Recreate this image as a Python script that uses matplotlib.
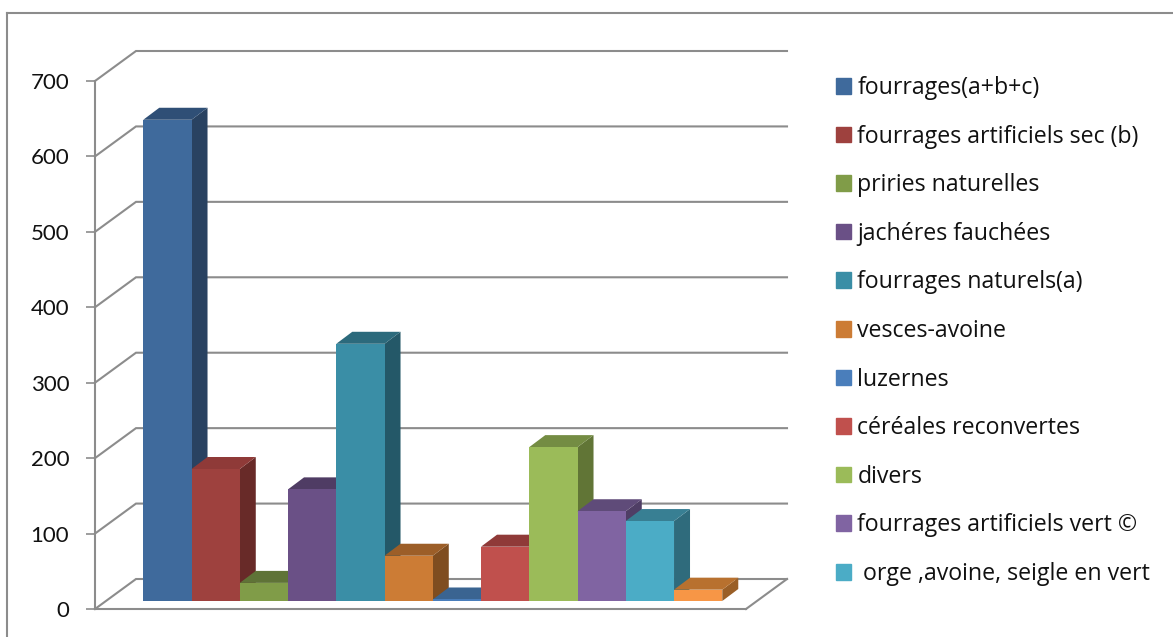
import matplotlib
matplotlib.use('Agg')
import matplotlib.pyplot as plt
from matplotlib.patches import Patch, Polygon
from matplotlib.transforms import ScaledTranslation

plt.rcParams['font.family'] = ['Lato', 'DejaVu Sans']

labels = ['fourrages(a+b+c)', 'fourrages artificiels sec (b)', 'priries naturelles',
          'jachéres fauchées', 'fourrages naturels(a)', 'vesces-avoine', 'luzernes',
          'céréales reconvertes', 'divers', 'fourrages artificiels vert ©',
          ' orge ,avoine, seigle en vert', '']
values = [638, 175, 24, 148, 341, 60, 2, 72, 204, 119, 106, 15]
front = ['#3f6a9c', '#9e413e', '#809c48', '#6a5086', '#3a8ea6', '#cc7c35',
         '#4a7ebb', '#c0504d', '#9bbb59', '#8064a2', '#4bacc6', '#f79646']
top = ['#2f4f76', '#8f3a38', '#5f7337', '#4f3c64', '#2c6a7c', '#9c5e28',
       '#3a6491', '#8f3a38', '#748c43', '#5f4b79', '#387f93', '#b8712f']
side = ['#294261', '#682a28', '#4f602e', '#423253', '#245868', '#7f4d20',
        '#2f5278', '#772f2d', '#617536', '#4f3e65', '#2f6b7c', '#9a5f27']
yticks = [0, 100, 200, 300, 400, 500, 600, 700]

W, H = 1173, 637
fig = plt.figure(figsize=(W / 100, H / 100), dpi=100)
ax = fig.add_axes([95 / W, 1 - 609 / H, (746 - 95) / W, (609 - 81) / H])

# pixel sizes of the fake 3D
px_x = 48.25
px_y = 528 / 700
ax.set_xlim((95 - 167.4) / px_x, (746 - 167.4) / px_x)
ax.set_ylim(0, 700)

gray = '#8c8c8c'
wall_x = 41 / px_x
wall_y = 30 / px_y
x0, x1 = ax.get_xlim()

# left wall and back wall
for v in yticks:
    ax.plot([x0, x0 + wall_x, x1 + wall_x], [v, v + wall_y, v + wall_y], color=gray,
            lw=1.5, clip_on=False, zorder=1, solid_joinstyle='miter')
ax.plot([x1, x1 + wall_x], [0, wall_y], color=gray, lw=1.5, clip_on=False, zorder=1)

# bars sit a bit behind the front of the floor
bar_trans = ax.transData + ScaledTranslation(0, 8 / 100, fig.dpi_scale_trans)
dx = 16 / px_x
dy = 12 / px_y
for i, v in enumerate(values):
    l, r = i - 0.5, i + 0.5
    ax.add_patch(Polygon([(r, 0), (r + dx, dy), (r + dx, v + dy), (r, v)], color=side[i],
                         lw=0, transform=bar_trans, clip_on=False, zorder=2 + i))
    ax.add_patch(Polygon([(l, v), (l + dx, v + dy), (r + dx, v + dy), (r, v)], color=top[i],
                         lw=0, transform=bar_trans, clip_on=False, zorder=2 + i))
    ax.bar(i, v, width=1, color=front[i], transform=bar_trans, clip_on=False, zorder=2 + i)

ax.set_xlim(x0, x1)
ax.set_ylim(0, 700)
for s in ['top', 'right']:
    ax.spines[s].set_visible(False)
for s in ['left', 'bottom']:
    ax.spines[s].set_color(gray)
    ax.spines[s].set_linewidth(1.5)
ax.set_xticks([])
ax.set_yticks(yticks)
ax.tick_params(axis='y', length=6.5, width=1.2, color=gray, labelsize=16, labelcolor='#111111', pad=12)
ax.patch.set_visible(False)

handles = [Patch(color=front[i], label=labels[i]) for i in range(11)]
fig.legend(handles=handles, loc='upper left', bbox_to_anchor=(836 / W, 1 - 76 / H), frameon=False,
           labelspacing=1.06, handlelength=0.66, handleheight=0.66, borderpad=0,
           handletextpad=0.26, labelcolor='#111111', borderaxespad=0,
           prop={'family': 'Open Sans', 'size': 16.7})

# outer frame of the chart area
fig.add_artist(plt.Line2D([7 / W, 7 / W], [0, 1 - 13 / H], color=gray, lw=1.5))
fig.add_artist(plt.Line2D([7 / W, 1], [1 - 13 / H, 1 - 13 / H], color=gray, lw=1.5))

fig.savefig('out.png', dpi=100)
